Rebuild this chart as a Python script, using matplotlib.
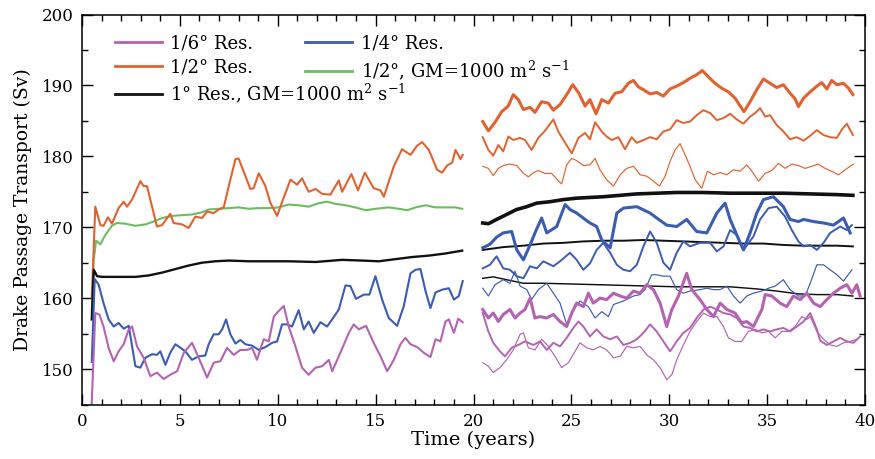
import matplotlib
matplotlib.use("Agg")
import matplotlib.pyplot as plt
from matplotlib.lines import Line2D
from matplotlib.ticker import MultipleLocator

plt.rcParams['font.family'] = ['DejaVu Serif']
plt.rcParams['mathtext.fontset'] = 'dejavuserif'

# ---- spin-up runs (years 0-19.5) ----
orange_x = [0.5, 0.68, 0.94, 1.1, 1.33, 1.53, 1.87, 2.13, 2.3, 2.56, 2.98, 3.15, 3.32, 3.58, 3.83, 4.09,
            4.51, 4.68, 5.11, 5.45, 5.79, 6.13, 6.39, 6.73, 6.98, 7.24, 7.5, 7.84, 8.0, 8.35, 8.6, 8.77,
            9.03, 9.37, 9.63, 9.97, 10.2, 10.65, 10.99, 11.24, 11.58, 11.93, 12.27, 12.69, 13.12, 13.29,
            13.76, 14.1, 14.45, 14.9, 15.25, 15.42, 15.93, 16.35, 16.78, 17.12, 17.38, 17.72, 18.14,
            18.4, 18.65, 18.91, 19.08, 19.34, 19.45]
orange_y = [160.0, 172.9, 170.3, 170.2, 171.4, 170.5, 172.7, 173.6, 172.9, 173.9, 176.5, 175.8, 175.8,
            172.9, 170.1, 170.3, 171.9, 170.6, 170.4, 169.9, 171.5, 171.3, 172.2, 172.0, 172.5, 172.8,
            175.8, 179.6, 179.7, 177.2, 175.4, 175.5, 177.6, 175.8, 173.4, 171.6, 173.4, 176.7, 176.0,
            176.9, 175.0, 175.4, 174.7, 174.6, 176.6, 175.0, 177.5, 175.2, 177.7, 175.5, 175.2, 174.3,
            178.6, 181.0, 180.2, 181.5, 182.0, 180.9, 178.1, 177.7, 178.7, 179.1, 180.9, 179.6, 180.2]

green_x = [0.5, 0.6, 0.72, 0.94, 1.19, 1.53, 1.79, 2.21, 2.73, 3.24, 3.66, 4.09, 4.6, 5.11, 5.62, 6.13,
           6.47, 6.98, 7.5, 8.0, 8.52, 9.03, 9.54, 10.05, 10.56, 11.07, 11.58, 12.1, 12.52, 12.95, 13.46,
           13.97, 14.48, 14.99, 15.67, 16.18, 16.61, 17.04, 17.55, 18.06, 18.57, 19.08, 19.42]
green_y = [158.0, 165.4, 168.1, 167.6, 168.9, 170.2, 170.6, 170.5, 170.2, 170.4, 170.8, 171.3, 171.6,
           171.7, 171.8, 172.1, 172.5, 172.6, 172.7, 172.8, 172.6, 172.7, 172.7, 172.8, 173.2, 173.1,
           172.9, 173.4, 173.6, 173.3, 173.1, 172.8, 172.4, 172.6, 172.8, 172.6, 172.4, 172.8, 173.1,
           172.8, 172.8, 172.8, 172.6]

black_x = [0.5, 0.6, 0.77, 1.02, 1.7, 2.73, 3.4, 4.09, 4.77, 5.45, 6.13, 6.81, 7.5, 8.52, 9.54, 10.56,
           11.93, 13.29, 14.31, 15.16, 16.01, 16.87, 17.72, 18.57, 19.42]
black_y = [157.0, 164.0, 163.1, 163.0, 163.0, 163.0, 163.2, 163.6, 164.1, 164.6, 165.0, 165.2, 165.3,
           165.2, 165.2, 165.2, 165.1, 165.4, 165.3, 165.2, 165.5, 165.8, 166.0, 166.3, 166.7]

blue_x = [0.5, 0.65, 0.85, 1.1, 1.36, 1.62, 1.87, 2.13, 2.39, 2.56, 2.73, 2.98, 3.24, 3.58, 3.83, 4.0,
          4.26, 4.51, 4.77, 5.03, 5.28, 5.62, 5.96, 6.3, 6.47, 6.73, 6.98, 7.16, 7.36, 7.58, 7.84, 8.09,
          8.35, 8.69, 9.03, 9.37, 9.71, 9.97, 10.22, 10.48, 10.73, 11.07, 11.33, 11.58, 11.84, 12.18,
          12.52, 12.78, 13.12, 13.46, 13.71, 14.0, 14.4, 14.68, 14.99, 15.33, 15.67, 16.1, 16.44, 16.78,
          17.04, 17.29, 17.55, 17.8, 18.06, 18.4, 18.74, 19.0, 19.25, 19.45]
blue_y = [151.0, 162.7, 161.9, 159.3, 157.0, 156.0, 156.5, 155.7, 156.1, 153.2, 150.4, 150.2, 151.6,
          152.1, 152.0, 152.5, 150.6, 152.3, 153.5, 153.0, 152.5, 151.3, 151.8, 151.9, 153.5, 154.9,
          154.9, 155.6, 157.0, 154.9, 153.6, 154.1, 153.5, 153.3, 152.7, 153.1, 153.7, 153.9, 156.3,
          156.3, 156.0, 158.3, 155.6, 156.7, 155.1, 156.6, 156.0, 157.0, 158.4, 161.8, 161.7, 159.9,
          160.5, 160.5, 163.1, 159.8, 157.2, 156.1, 158.9, 163.5, 164.0, 164.1, 161.0, 158.6, 160.8,
          161.2, 161.4, 159.8, 160.3, 162.4]

purple_x = [0.48, 0.68, 0.89, 1.1, 1.36, 1.62, 1.87, 2.13, 2.39, 2.56, 2.81, 3.15, 3.49, 3.83, 4.17, 4.51,
            4.86, 5.2, 5.62, 5.96, 6.39, 6.73, 7.07, 7.41, 7.75, 8.09, 8.43, 8.69, 8.94, 9.28, 9.54, 9.8,
            10.05, 10.31, 10.56, 10.9, 11.24, 11.58, 11.93, 12.27, 12.61, 12.78, 13.2, 13.63, 13.88,
            14.14, 14.51, 14.9, 15.25, 15.59, 15.93, 16.27, 16.52, 16.78, 17.12, 17.46, 17.8, 18.06,
            18.31, 18.57, 18.74, 19.0, 19.22, 19.45]
purple_y = [144.0, 157.9, 157.7, 156.0, 153.0, 151.1, 152.5, 153.5, 155.6, 156.0, 153.2, 151.6, 149.0,
            149.5, 148.6, 149.2, 149.7, 152.3, 153.7, 151.6, 148.8, 150.9, 151.1, 153.0, 152.0, 152.7,
            152.7, 153.0, 151.3, 154.2, 153.9, 157.4, 158.2, 158.9, 156.0, 153.2, 150.2, 149.2, 150.2,
            150.4, 151.3, 149.7, 152.3, 155.1, 156.3, 155.6, 156.1, 153.7, 151.8, 149.7, 151.3, 153.5,
            154.4, 153.5, 153.1, 152.3, 151.7, 154.2, 153.9, 156.7, 157.0, 155.1, 157.1, 156.6]

# ---- three 20-year runs each (years 20.5-39.5): thick, medium, thin ----
or_thick_x = [20.47, 20.76, 21.1, 21.44, 21.78, 22.03, 22.29, 22.55, 22.89, 23.14, 23.48, 23.82, 24.08,
              24.42, 24.76, 25.07, 25.36, 25.7, 25.95, 26.26, 26.55, 26.89, 27.23, 27.57, 27.91, 28.17,
              28.42, 28.68, 29.02, 29.36, 29.7, 30.04, 30.38, 30.72, 31.06, 31.4, 31.69, 32.0, 32.34,
              32.68, 33.02, 33.36, 33.62, 33.82, 34.13, 34.47, 34.81, 35.15, 35.49, 35.83, 36.17, 36.43,
              36.6, 36.86, 37.2, 37.54, 37.79, 38.05, 38.3, 38.56, 38.9, 39.16, 39.38]
or_thick_y = [184.9, 183.6, 184.8, 186.3, 187.1, 188.7, 188.0, 186.6, 186.9, 186.2, 187.7, 187.5, 186.5,
              187.3, 188.7, 190.1, 189.0, 187.1, 188.0, 186.0, 188.0, 187.5, 188.9, 189.1, 190.3, 190.7,
              189.8, 189.4, 188.8, 189.0, 188.5, 189.5, 189.9, 190.4, 191.0, 191.5, 192.1, 191.2, 190.3,
              189.6, 189.1, 188.2, 187.1, 186.3, 187.7, 189.4, 190.9, 190.3, 189.7, 190.1, 188.9, 188.1,
              187.0, 188.2, 189.1, 189.9, 190.4, 189.5, 190.7, 190.1, 190.3, 189.6, 188.7]

or_med_x = [20.47, 20.76, 21.01, 21.27, 21.52, 21.78, 22.03, 22.37, 22.63, 22.97, 23.31, 23.65, 24.08,
            24.33, 24.68, 25.02, 25.36, 25.7, 25.95, 26.21, 26.55, 26.8, 27.06, 27.4, 27.74, 28.08, 28.34,
            28.68, 29.02, 29.36, 29.7, 30.04, 30.38, 30.72, 31.06, 31.4, 31.74, 32.09, 32.43, 32.77,
            33.11, 33.45, 33.79, 34.13, 34.39, 34.64, 34.9, 35.15, 35.49, 35.83, 36.17, 36.51, 36.86,
            37.2, 37.54, 37.88, 38.22, 38.56, 38.82, 39.07, 39.38]
or_med_y = [182.7, 180.9, 180.1, 181.6, 180.7, 182.8, 182.3, 182.6, 182.3, 180.9, 182.6, 183.6, 185.2,
            183.5, 181.9, 180.4, 182.6, 183.3, 182.4, 184.8, 183.5, 182.8, 182.3, 182.7, 181.0, 182.7,
            181.9, 182.3, 182.7, 182.4, 183.5, 183.8, 185.1, 184.7, 184.9, 185.8, 186.5, 186.1, 185.1,
            185.4, 186.0, 185.2, 184.6, 185.6, 186.1, 186.8, 185.6, 185.8, 184.4, 183.5, 182.4, 182.7,
            182.2, 182.9, 183.7, 183.0, 182.7, 182.6, 183.8, 184.6, 183.0]

or_thin_x = [20.47, 20.76, 21.01, 21.27, 21.52, 21.86, 22.21, 22.55, 22.8, 23.06, 23.31, 23.65, 23.99,
             24.28, 24.5, 24.76, 25.02, 25.27, 25.61, 25.95, 26.21, 26.46, 26.8, 27.15, 27.49, 27.83,
             28.17, 28.51, 28.85, 29.19, 29.5, 29.79, 30.04, 30.3, 30.55, 30.81, 31.06, 31.32, 31.66,
             31.95, 32.26, 32.6, 32.94, 33.28, 33.62, 33.96, 34.22, 34.56, 34.9, 35.24, 35.58, 35.92,
             36.26, 36.6, 36.94, 37.28, 37.62, 37.96, 38.3, 38.64, 38.99, 39.24, 39.41]
or_thin_y = [178.6, 178.3, 177.3, 178.3, 178.7, 178.9, 178.7, 177.6, 177.1, 177.7, 178.0, 177.6, 177.6,
             176.7, 176.1, 178.8, 179.7, 179.4, 178.7, 178.8, 179.7, 178.1, 176.7, 175.8, 177.4, 178.3,
             178.6, 177.4, 177.2, 176.5, 175.8, 177.2, 179.3, 180.9, 181.8, 180.2, 178.6, 176.7, 175.5,
             177.9, 177.4, 177.7, 177.4, 178.1, 177.9, 178.8, 177.9, 176.5, 177.6, 178.0, 179.0, 178.3,
             178.9, 178.7, 178.3, 178.6, 178.9, 178.3, 177.9, 177.4, 178.1, 178.6, 178.9]

bk_thick_x = [20.47, 20.76, 21.18, 21.69, 22.2, 22.72, 23.23, 23.91, 24.59, 25.27, 25.95, 26.63, 27.49,
              28.34, 29.36, 30.38, 31.74, 33.11, 34.47, 35.83, 37.2, 38.56, 39.38]
bk_thick_y = [170.6, 170.5, 171.1, 171.8, 172.5, 172.9, 173.4, 173.6, 173.9, 174.1, 174.2, 174.3, 174.5,
              174.7, 174.8, 174.9, 174.9, 174.8, 174.8, 174.8, 174.7, 174.6, 174.5]

bk_med_x = [20.47, 21.52, 22.55, 23.57, 24.59, 25.61, 26.63, 27.66, 28.68, 29.7, 30.72, 31.74, 32.77,
            33.79, 34.81, 35.83, 36.86, 37.88, 38.56, 39.38]
bk_med_y = [166.8, 167.2, 167.4, 167.7, 167.8, 168.0, 168.1, 168.1, 168.2, 168.1, 168.0, 167.9, 167.8,
            167.7, 167.7, 167.5, 167.4, 167.4, 167.4, 167.3]

bk_thin_x = [20.47, 21.01, 21.52, 22.03, 22.55, 23.57, 24.93, 26.29, 27.66, 29.02, 30.38, 31.74, 33.11,
             34.47, 35.49, 36.6, 37.54, 38.56, 39.38]
bk_thin_y = [162.8, 163.0, 162.7, 162.4, 162.1, 162.1, 162.0, 161.9, 161.8, 161.7, 161.6, 161.6, 161.6,
             161.3, 161.0, 160.6, 160.5, 160.5, 160.3]

bl_thick_x = [20.47, 20.84, 21.18, 21.52, 21.95, 22.21, 22.55, 22.89, 23.14, 23.48, 23.74, 24.25, 24.68,
              24.93, 25.27, 25.7, 25.95, 26.29, 26.55, 26.98, 27.32, 27.66, 28.34, 29.02, 29.36, 29.87,
              30.38, 30.89, 31.4, 31.92, 32.43, 32.85, 33.11, 33.45, 33.79, 34.13, 34.47, 34.81, 35.32,
              35.83, 36.17, 36.6, 36.86, 37.37, 37.88, 38.39, 38.9, 39.24]
bl_thick_y = [167.1, 167.6, 168.6, 169.2, 169.4, 166.8, 165.4, 167.5, 169.2, 171.3, 169.2, 170.1, 173.2,
              172.5, 172.0, 171.1, 170.6, 170.1, 168.2, 167.1, 172.0, 172.7, 172.9, 172.0, 171.3, 170.3,
              170.1, 171.1, 169.4, 169.2, 172.0, 173.4, 171.1, 168.9, 166.8, 169.2, 172.0, 173.9, 174.3,
              172.9, 171.1, 170.8, 171.1, 170.8, 170.6, 170.3, 171.3, 169.2]

bl_med_x = [20.47, 20.84, 21.18, 21.52, 21.86, 22.21, 22.55, 22.89, 23.23, 23.57, 24.08, 24.42, 24.93,
            25.27, 25.61, 25.95, 26.29, 26.63, 26.98, 27.32, 27.66, 28.0, 28.34, 28.68, 29.02, 29.36,
            29.7, 30.04, 30.38, 30.72, 31.06, 31.57, 32.09, 32.43, 32.77, 33.11, 33.45, 33.79, 34.3,
            34.64, 35.07, 35.49, 35.92, 36.26, 36.6, 36.86, 37.2, 37.54, 37.88, 38.22, 38.73, 39.07, 39.33]
bl_med_y = [164.2, 164.7, 165.9, 164.2, 164.0, 163.1, 162.8, 164.5, 164.2, 165.2, 164.5, 165.2, 166.4,
            165.4, 164.0, 164.9, 166.8, 167.8, 166.4, 164.7, 164.0, 163.8, 164.7, 167.3, 169.4, 167.8,
            165.0, 164.0, 166.4, 168.0, 167.3, 167.8, 167.8, 166.6, 167.3, 169.6, 168.9, 166.8, 168.7,
            171.1, 172.7, 172.9, 171.5, 169.6, 168.0, 167.3, 167.5, 166.8, 167.8, 169.2, 170.1, 169.6, 170.3]

bl_thin_x = [20.47, 20.76, 21.1, 21.52, 21.86, 22.12, 22.38, 22.72, 22.97, 23.31, 23.74, 24.08, 24.42,
             24.76, 25.1, 25.44, 25.87, 26.21, 26.55, 26.89, 27.15, 27.66, 28.17, 28.51, 28.76, 29.1,
             29.36, 29.7, 30.04, 30.38, 30.72, 31.06, 31.57, 31.92, 32.26, 32.6, 32.94, 33.28, 33.62,
             33.96, 34.3, 34.73, 35.07, 35.41, 35.83, 36.17, 36.6, 36.94, 37.2, 37.54, 37.88, 38.22,
             38.56, 38.9, 39.33]
bl_thin_y = [161.4, 160.3, 161.9, 162.6, 162.1, 163.8, 161.7, 161.2, 159.8, 161.2, 162.1, 160.7, 159.3,
             156.3, 158.4, 159.6, 158.8, 157.2, 158.1, 157.4, 159.1, 159.6, 160.3, 160.5, 161.2, 163.3,
             163.3, 163.1, 163.1, 161.2, 160.7, 161.0, 161.2, 161.4, 161.2, 161.2, 161.7, 160.3, 159.3,
             160.3, 160.7, 161.0, 161.4, 161.7, 162.6, 161.2, 160.3, 160.3, 162.1, 164.7, 164.7, 164.0,
             163.3, 162.4, 164.0]

pu_thick_x = [20.47, 20.76, 21.01, 21.27, 21.52, 21.86, 22.12, 22.38, 22.63, 22.89, 23.14, 23.4, 23.74,
              24.08, 24.42, 24.76, 25.02, 25.27, 25.61, 25.87, 26.12, 26.46, 26.8, 27.15, 27.49, 27.83,
              28.17, 28.51, 28.85, 29.19, 29.53, 29.87, 30.13, 30.47, 30.89, 31.15, 31.57, 31.92, 32.26,
              32.6, 32.94, 33.36, 33.7, 33.96, 34.3, 34.73, 34.9, 35.24, 35.66, 36.0, 36.34, 36.69, 37.03,
              37.37, 37.71, 38.05, 38.39, 38.73, 39.07, 39.33, 39.58, 39.75]
pu_thick_y = [158.4, 157.2, 157.9, 156.7, 157.7, 158.4, 157.2, 157.9, 158.4, 160.0, 157.2, 157.4, 157.2,
              157.7, 156.7, 156.0, 157.9, 159.3, 158.8, 160.7, 159.3, 160.0, 159.8, 160.7, 160.3, 160.0,
              161.0, 160.7, 161.9, 161.2, 159.3, 156.0, 158.4, 160.3, 163.5, 161.2, 159.8, 158.4, 157.4,
              159.3, 158.4, 157.9, 156.5, 156.7, 156.0, 158.4, 160.5, 160.3, 159.3, 158.8, 160.3, 159.8,
              160.7, 159.3, 158.8, 159.8, 160.7, 161.4, 161.9, 160.7, 161.9, 160.3]

pu_med_x = [20.47, 20.76, 21.01, 21.35, 21.61, 21.95, 22.29, 22.63, 23.06, 23.4, 23.74, 24.08, 24.42,
            24.76, 25.1, 25.36, 25.61, 25.95, 26.29, 26.63, 26.98, 27.32, 27.66, 28.0, 28.34, 28.68,
            29.02, 29.36, 29.7, 30.04, 30.38, 30.72, 31.06, 31.4, 31.75, 32.09, 32.43, 32.77, 33.11,
            33.45, 33.79, 34.13, 34.47, 34.81, 35.15, 35.49, 35.83, 36.17, 36.52, 36.86, 37.2, 37.54,
            37.71, 38.05, 38.39, 38.73, 39.07, 39.41, 39.75]
pu_med_y = [157.9, 155.3, 153.7, 152.5, 151.8, 153.0, 153.4, 153.9, 153.4, 153.9, 152.7, 153.7, 153.2,
            154.4, 155.8, 156.7, 156.0, 154.6, 155.6, 154.6, 154.2, 154.6, 153.4, 153.7, 154.2, 155.1,
            156.3, 155.3, 153.9, 152.5, 153.9, 155.1, 155.8, 157.2, 158.4, 158.8, 158.4, 157.9, 157.7,
            157.2, 156.0, 155.8, 155.3, 155.6, 155.3, 155.6, 155.8, 155.3, 156.0, 156.7, 157.9, 155.6,
            154.0, 153.4, 153.9, 154.4, 153.9, 153.7, 154.6]

pu_thin_x = [20.47, 20.76, 21.01, 21.35, 21.69, 22.03, 22.38, 22.55, 22.8, 23.14, 23.48, 23.82, 24.16,
             24.5, 24.85, 25.19, 25.44, 25.78, 26.12, 26.46, 26.8, 27.15, 27.49, 27.83, 28.17, 28.51,
             28.85, 29.19, 29.53, 29.87, 30.13, 30.38, 30.72, 31.06, 31.4, 31.75, 32.09, 32.43, 32.77,
             33.02, 33.36, 33.7, 34.04, 34.39, 34.73, 35.07, 35.41, 35.75, 36.09, 36.43, 36.77, 37.03,
             37.2, 37.54, 37.88, 38.22, 38.56, 38.9, 39.24, 39.58]
pu_thin_y = [150.9, 150.4, 149.5, 150.2, 151.3, 152.7, 154.9, 155.1, 153.0, 152.7, 154.2, 153.2, 151.8,
             150.2, 150.9, 152.5, 153.7, 153.0, 152.7, 153.2, 152.7, 151.6, 151.8, 153.2, 153.0, 153.2,
             152.0, 151.3, 150.2, 148.5, 149.2, 151.3, 153.4, 155.3, 156.7, 157.9, 157.4, 157.4, 156.0,
             154.4, 153.9, 153.9, 155.3, 155.6, 155.1, 155.3, 154.4, 155.3, 155.3, 156.0, 157.4, 157.0,
             157.4, 155.3, 154.2, 153.4, 153.2, 153.7, 153.9, 154.2]

C_PU = '#b463b3'
C_BL = '#3a5cb3'
C_OR = '#e2622f'
C_GR = '#6cbd60'
C_BK = '#111111'
LW_THICK, LW_MED, LW_THIN = 2.2, 1.4, 0.85

fig = plt.figure(figsize=(8.75, 4.59), dpi=100)
ax = fig.add_axes([0.0937, 0.1187, 0.8949, 0.8497])

ax.plot(green_x, green_y, color=C_GR, lw=1.5)
ax.plot(orange_x, orange_y, color=C_OR, lw=1.5)
ax.plot(black_x, black_y, color=C_BK, lw=1.7)
ax.plot(blue_x, blue_y, color=C_BL, lw=1.5)
ax.plot(purple_x, purple_y, color=C_PU, lw=1.5)

for xs, ys, lw in [(or_thick_x, or_thick_y, LW_THICK), (or_med_x, or_med_y, LW_MED), (or_thin_x, or_thin_y, LW_THIN)]:
    ax.plot(xs, ys, color=C_OR, lw=lw)
for xs, ys, lw in [(bk_thick_x, bk_thick_y, LW_THICK + 0.4), (bk_med_x, bk_med_y, LW_MED), (bk_thin_x, bk_thin_y, LW_THIN + 0.2)]:
    ax.plot(xs, ys, color=C_BK, lw=lw)
for xs, ys, lw in [(bl_thick_x, bl_thick_y, LW_THICK), (bl_med_x, bl_med_y, LW_MED), (bl_thin_x, bl_thin_y, LW_THIN)]:
    ax.plot(xs, ys, color=C_BL, lw=lw)
for xs, ys, lw in [(pu_thick_x, pu_thick_y, LW_THICK), (pu_med_x, pu_med_y, LW_MED), (pu_thin_x, pu_thin_y, LW_THIN)]:
    ax.plot(xs, ys, color=C_PU, lw=lw)

ax.set_xlim(0, 40)
ax.set_ylim(145, 200)
ax.xaxis.set_major_locator(MultipleLocator(5))
ax.xaxis.set_minor_locator(MultipleLocator(1))
ax.yaxis.set_major_locator(MultipleLocator(10))
ax.yaxis.set_minor_locator(MultipleLocator(5))
ax.tick_params(which='both', direction='in', top=True, right=True, labelsize=12, width=1.0)
ax.tick_params(which='major', length=8, pad=6)
ax.tick_params(which='minor', length=4)
for s in ax.spines.values():
    s.set_linewidth(1.1)

ax.set_xlabel('Time (years)', fontsize=14, labelpad=1)
ax.set_ylabel('Drake Passage Transport (Sv)', fontsize=13.5, labelpad=7)

# legend: four entries in a 2x2 block, the 1-degree entry on its own row
gm = 'GM=1000 m$^2$ s$^{-1}$'
h = [Line2D([], [], color=C_PU, lw=2), Line2D([], [], color=C_OR, lw=2),
     Line2D([], [], color=C_BL, lw=2), Line2D([], [], color=C_GR, lw=2)]
lab = ['1/6° Res.', '1/2° Res.', '1/4° Res.', '1/2°, ' + gm]
leg_kw = dict(frameon=False, fontsize=13, handlelength=2.6, handletextpad=0.45,
              borderaxespad=0, borderpad=0, loc='upper left')
leg1 = ax.legend(h, lab, ncol=2, bbox_to_anchor=(0.042, 0.948), columnspacing=2.9,
                 labelspacing=0.32, **leg_kw)
ax.add_artist(leg1)
ax.legend([Line2D([], [], color=C_BK, lw=2)], ['1° Res., ' + gm],
          bbox_to_anchor=(0.042, 0.828), **leg_kw)

fig.savefig('out.png', dpi=100)
